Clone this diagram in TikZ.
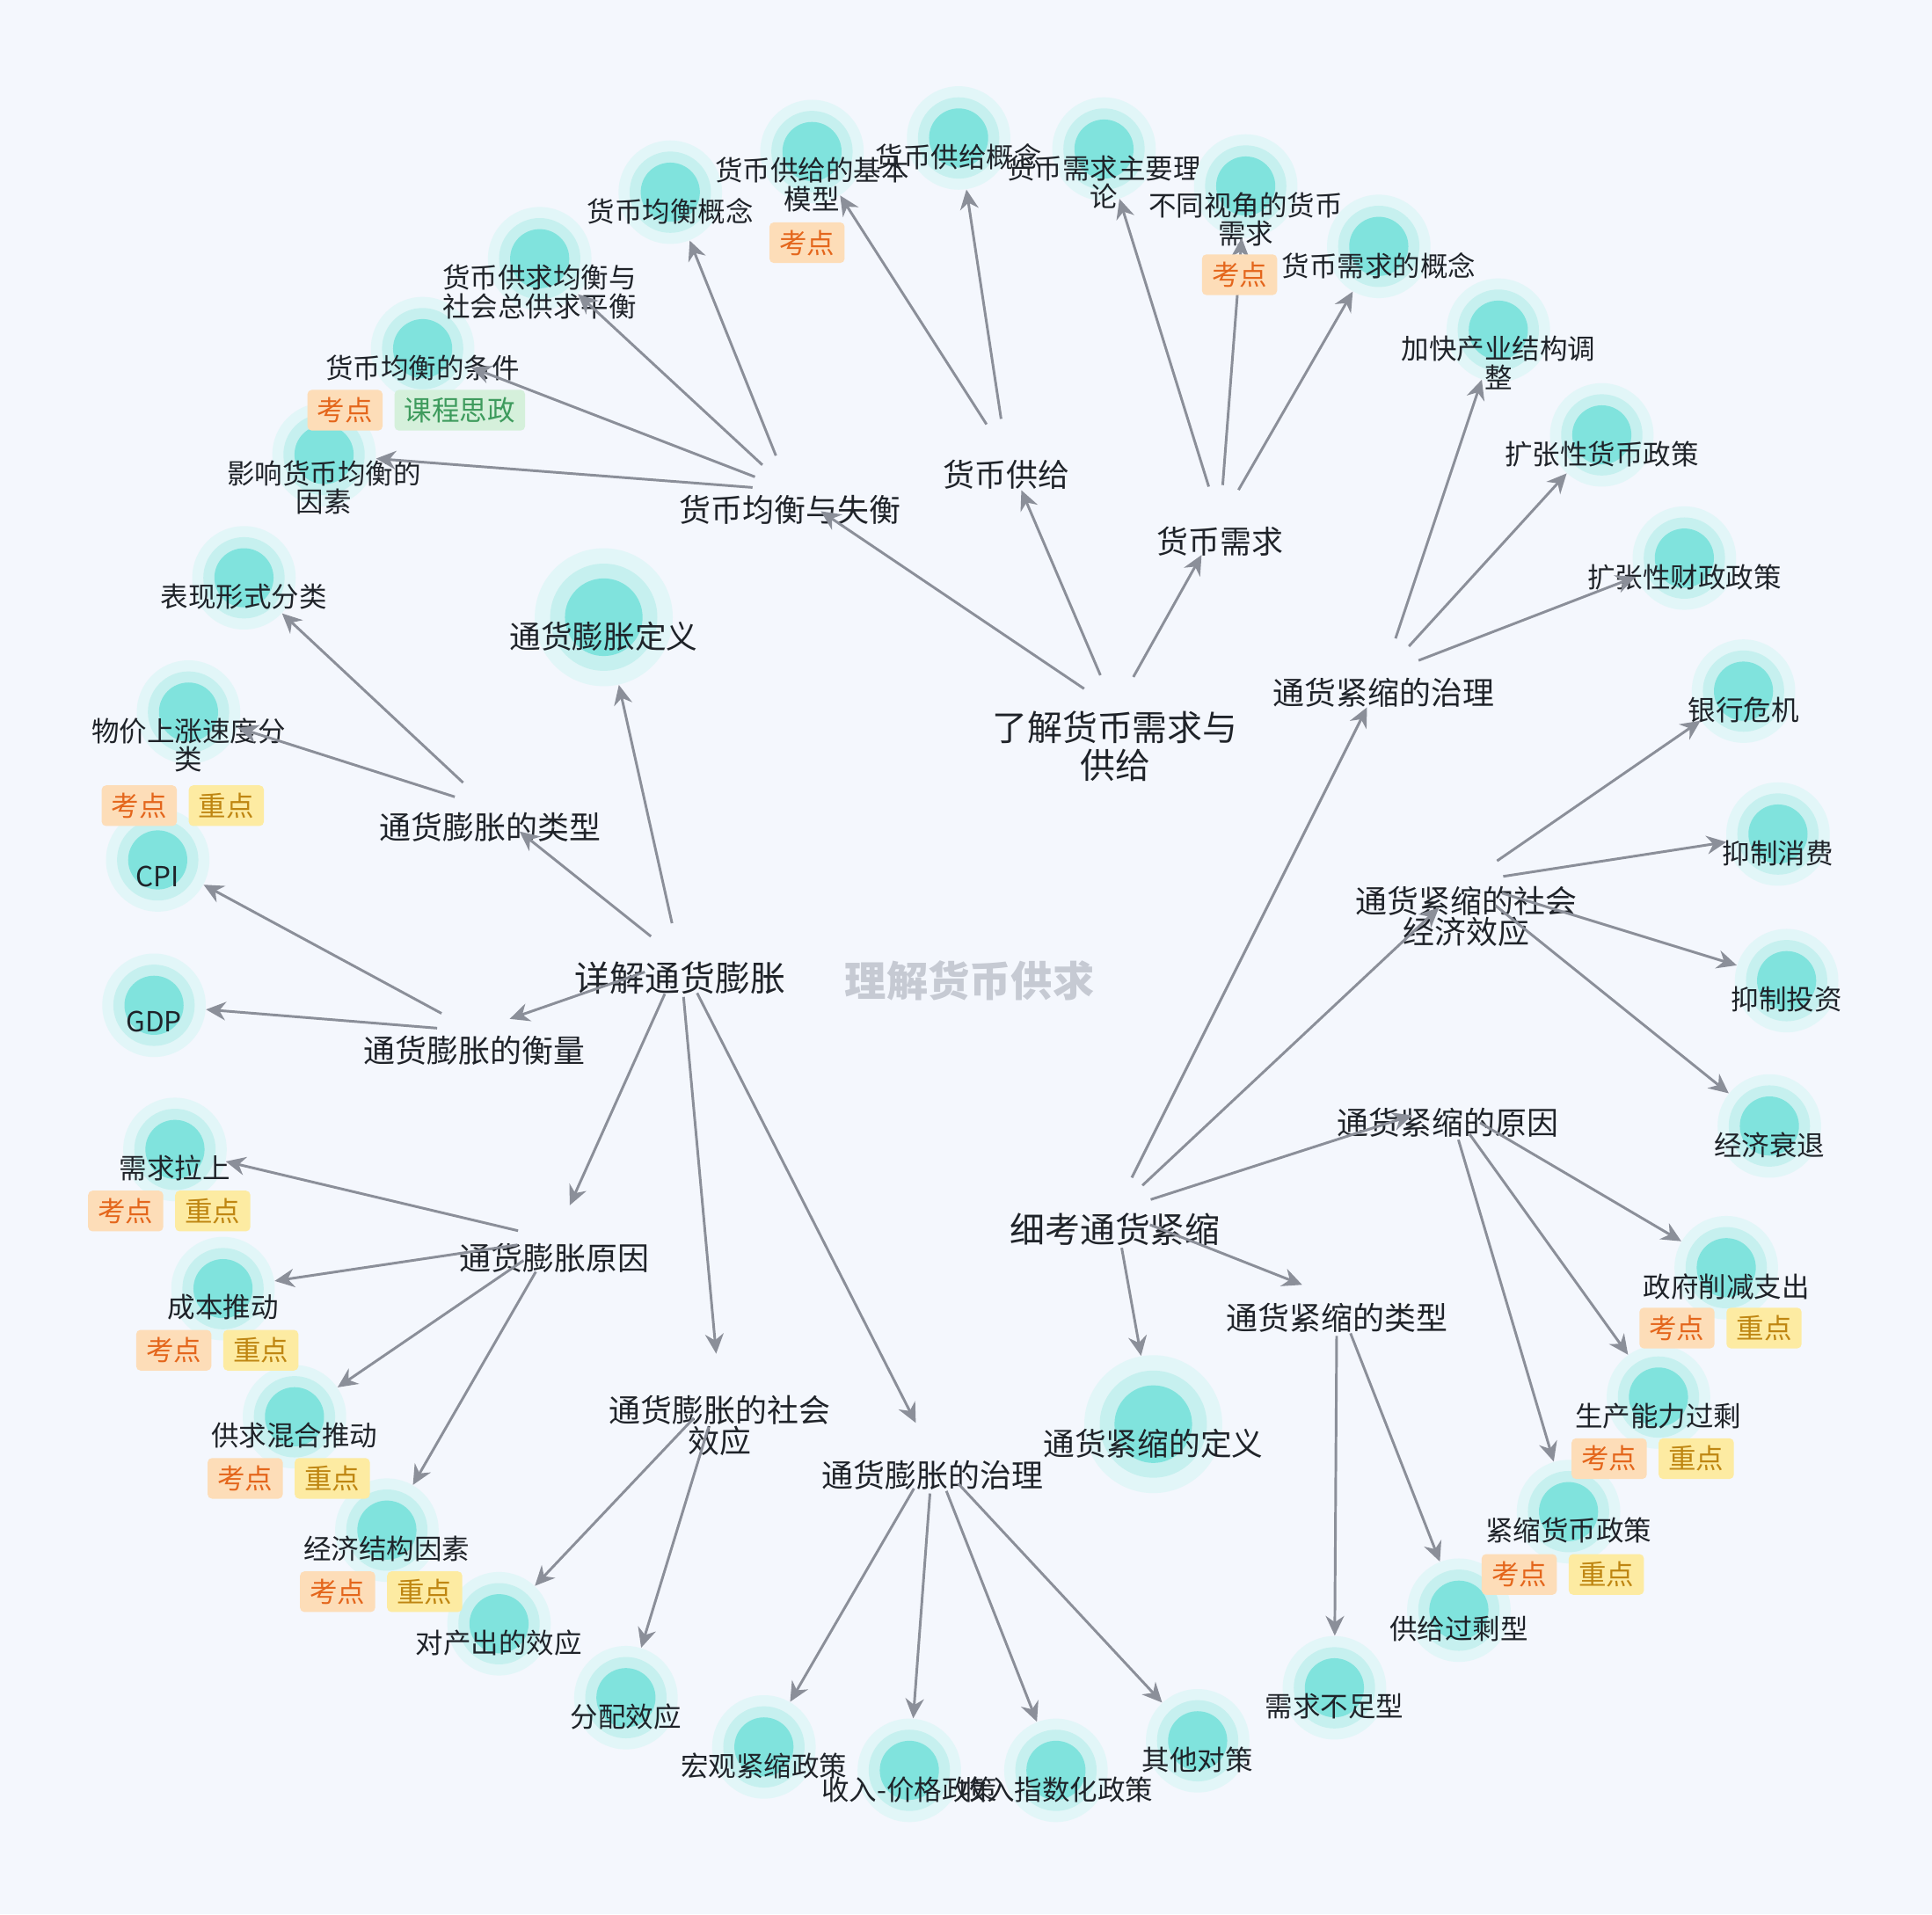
\documentclass[tikz,border=0pt]{standalone}
\usepackage{fontspec}
\setmainfont{Noto Sans CJK SC}
\usetikzlibrary{arrows.meta,positioning}
\definecolor{MmBg}{HTML}{F4F7FD}
\definecolor{MmCore}{HTML}{80E3DD}
\definecolor{MmRing}{HTML}{C6F0EF}
\definecolor{MmHalo}{HTML}{E2F6F8}
\definecolor{MmLine}{HTML}{8B8F99}
\definecolor{MmText}{HTML}{1F2329}
\definecolor{MmTitle}{HTML}{C6CAD3}
\definecolor{MmKaoFill}{HTML}{FDDDB8}
\definecolor{MmKaoText}{HTML}{E4661C}
\definecolor{MmZhongFill}{HTML}{FDEBA2}
\definecolor{MmZhongText}{HTML}{BF8612}
\definecolor{MmSiFill}{HTML}{D5F0DB}
\definecolor{MmSiText}{HTML}{3E9B5D}
\tikzset{
  mm/leaf/.style={
    circle,
    fill=MmHalo,
    minimum size=1.68cm,
    inner sep=0pt,
    path picture={
      \fill[MmRing] (path picture bounding box.center) circle (0.66cm);
      \fill[MmCore] (path picture bounding box.center) circle (0.48cm);
    }
  },
  mm/bigleaf/.style={
    circle,
    fill=MmHalo,
    minimum size=2.24cm,
    inner sep=0pt,
    path picture={
      \fill[MmRing] (path picture bounding box.center) circle (0.87cm);
      \fill[MmCore] (path picture bounding box.center) circle (0.63cm);
    }
  },
  mm/point/.style={circle, minimum size=1.2cm, inner sep=0pt},
  mm/leaftext/.style={
    yshift=0.755cm,
    align=center,
    inner sep=0pt,
    text=MmText,
    font=\fontsize{12.8}{13.1}\selectfont
  },
  mm/bigtext/.style={
    yshift=1.06cm,
    align=center,
    inner sep=0pt,
    text=MmText,
    font=\fontsize{14.5}{14.5}\selectfont
  },
  mm/subtext/.style={
    yshift=0.542cm,
    align=center,
    inner sep=0pt,
    text=MmText,
    font=\fontsize{14.6}{14.3}\selectfont
  },
  mm/hubtext/.style={
    yshift=0.586cm,
    align=center,
    inner sep=0pt,
    text=MmText,
    font=\fontsize{16.2}{17.5}\selectfont
  },
  mm/tag/.style={
    rounded corners=2pt,
    minimum height=0.66cm,
    inner xsep=0.16cm,
    inner ysep=0pt,
    font=\fontsize{12.8}{13}\selectfont
  },
  mm/kao/.style={mm/tag, fill=MmKaoFill, text=MmKaoText},
  mm/zhong/.style={mm/tag, fill=MmZhongFill, text=MmZhongText},
  mm/sizheng/.style={mm/tag, fill=MmSiFill, text=MmSiText},
  mm/arrow/.style={-{Stealth[length=0.32cm,width=0.3cm]}, line width=1.2pt, draw=MmLine},
  mm/title/.style={font=\fontsize{19.2}{20}\selectfont\bfseries, text=MmTitle}
}

\begin{document}
\begin{tikzpicture}[x=0.02cm,y=-0.02cm]
  \fill[MmBg] (0,0) rectangle (1568,1554);
  \useasboundingbox (0,0) rectangle (1568,1554);

  \node[mm/title] (title) at (787,796) {理解货币供求};

  % hubs and branch points
  \node[mm/point, label={[mm/hubtext]below:{了解货币需求与\\供给}}] (lhxq) at (905,576) {};
  \node[mm/point, label={[mm/hubtext]below:详解通货膨胀}] (xjtz) at (552,779) {};
  \node[mm/point, label={[mm/hubtext]below:细考通货紧缩}] (xktj) at (905,983) {};

  \node[mm/point, label={[mm/subtext]below:货币均衡与失衡}] (jhsh) at (641,398) {};
  \node[mm/point, label={[mm/subtext]below:货币供给}] (hbgj) at (817,370) {};
  \node[mm/point, label={[mm/subtext]below:货币需求}] (hbxq) at (990,424) {};
  \node[mm/point, label={[mm/subtext]below:通货膨胀的类型}] (tzlx) at (398,656) {};
  \node[mm/point, label={[mm/subtext]below:通货膨胀的衡量}] (tzhl) at (385,837) {};
  \node[mm/point, label={[mm/subtext]below:通货膨胀原因}] (tzyy) at (450,1006) {};
  \node[mm/point, label={[mm/subtext]below:{通货膨胀的社会\\效应}}] (tzxy) at (584,1129) {};
  \node[mm/point, label={[mm/subtext]below:通货膨胀的治理}] (tzzl) at (757,1182) {};
  \node[mm/point, label={[mm/subtext]below:通货紧缩的治理}] (jszl) at (1123,547) {};
  \node[mm/point, label={[mm/subtext]below:{通货紧缩的社会\\经济效应}}] (jsxy) at (1190,716) {};
  \node[mm/point, label={[mm/subtext]below:通货紧缩的原因}] (jsyy) at (1175,896) {};
  \node[mm/point, label={[mm/subtext]below:通货紧缩的类型}] (jslx) at (1085,1054) {};

  % leaves
  \node[mm/leaf, label={[mm/leaftext]below:{影响货币均衡的\\因素}}] (ygys) at (263,369) {};
  \node[mm/leaf, label={[mm/leaftext]below:货币均衡的条件}] (jhtj) at (343,283) {};
  \node[mm/leaf, label={[mm/leaftext]below:{货币供求均衡与\\社会总供求平衡}}] (gqjh) at (438,210) {};
  \node[mm/leaf, label={[mm/leaftext]below:货币均衡概念}] (jhgn) at (544,156) {};
  \node[mm/leaf, label={[mm/leaftext]below:{货币供给的基本\\模型}}] (gjmx) at (659,123) {};
  \node[mm/leaf, label={[mm/leaftext]below:货币供给概念}] (gjgn) at (778,112) {};
  \node[mm/leaf, label={[mm/leaftext]below:{货币需求主要理\\论}}] (xqll) at (896,121) {};
  \node[mm/leaf, label={[mm/leaftext]below:{不同视角的货币\\需求}}] (btsj) at (1011,151) {};
  \node[mm/leaf, label={[mm/leaftext]below:货币需求的概念}] (xqgn) at (1119,200) {};
  \node[mm/leaf, label={[mm/leaftext]below:{加快产业结构调\\整}}] (cyjg) at (1216,268) {};
  \node[mm/leaf, label={[mm/leaftext]below:扩张性货币政策}] (kzhb) at (1300,353) {};
  \node[mm/leaf, label={[mm/leaftext]below:扩张性财政政策}] (kzcz) at (1367,453) {};
  \node[mm/leaf, label={[mm/leaftext]below:银行危机}] (yhwj) at (1415,561) {};
  \node[mm/leaf, label={[mm/leaftext]below:抑制消费}] (yzxf) at (1443,677) {};
  \node[mm/leaf, label={[mm/leaftext]below:抑制投资}] (yztz) at (1450,796) {};
  \node[mm/leaf, label={[mm/leaftext]below:经济衰退}] (jjst) at (1436,914) {};
  \node[mm/leaf, label={[mm/leaftext]below:政府削减支出}] (zfxj) at (1401,1029) {};
  \node[mm/leaf, label={[mm/leaftext]below:生产能力过剩}] (scgs) at (1346,1134) {};
  \node[mm/leaf, label={[mm/leaftext]below:紧缩货币政策}] (jshb) at (1273,1227) {};
  \node[mm/leaf, label={[mm/leaftext]below:供给过剩型}] (gjgs) at (1184,1307) {};
  \node[mm/leaf, label={[mm/leaftext]below:需求不足型}] (xqbz) at (1083,1370) {};
  \node[mm/leaf, label={[mm/leaftext]below:其他对策}] (qtdc) at (972,1413) {};
  \node[mm/leaf, label={[mm/leaftext]below:收入指数化政策}] (zshc) at (857,1437) {};
  \node[mm/leaf, label={[mm/leaftext]below:收入-价格政策}] (srjg) at (738,1437) {};
  \node[mm/leaf, label={[mm/leaftext]below:宏观紧缩政策}] (hgjs) at (620,1418) {};
  \node[mm/leaf, label={[mm/leaftext]below:分配效应}] (fpxy) at (508,1378) {};
  \node[mm/leaf, label={[mm/leaftext]below:对产出的效应}] (ccxy) at (405,1318) {};
  \node[mm/leaf, label={[mm/leaftext]below:经济结构因素}] (jjjg) at (314,1242) {};
  \node[mm/leaf, label={[mm/leaftext]below:供求混合推动}] (hhtd) at (239,1150) {};
  \node[mm/leaf, label={[mm/leaftext]below:成本推动}] (cbtd) at (181,1046) {};
  \node[mm/leaf, label={[mm/leaftext]below:需求拉上}] (xqls) at (142,933) {};
  \node[mm/leaf, label={[mm/leaftext]below:GDP}] (gdp) at (125,816) {};
  \node[mm/leaf, label={[mm/leaftext]below:CPI}] (cpi) at (128,698) {};
  \node[mm/leaf, label={[mm/leaftext]below:{物价上涨速度分\\类}}] (wjsd) at (153,578) {};
  \node[mm/leaf, label={[mm/leaftext]below:表现形式分类}] (bxxs) at (198,469) {};
  \node[mm/bigleaf, label={[mm/bigtext]below:通货膨胀定义}] (tzdy) at (490,501) {};
  \node[mm/bigleaf, label={[mm/bigtext]below:通货紧缩的定义}] (jsdy) at (936,1156) {};

  % links
  \draw[mm/arrow] (lhxq) -- (jhsh);
  \draw[mm/arrow] (lhxq) -- (hbgj);
  \draw[mm/arrow] (lhxq) -- (hbxq);
  \draw[mm/arrow] (jhsh) -- (ygys);
  \draw[mm/arrow] (jhsh) -- (jhtj);
  \draw[mm/arrow] (jhsh) -- (gqjh);
  \draw[mm/arrow] (jhsh) -- (jhgn);
  \draw[mm/arrow] (hbgj) -- (gjmx);
  \draw[mm/arrow] (hbgj) -- (gjgn);
  \draw[mm/arrow] (hbxq) -- (xqll);
  \draw[mm/arrow] (hbxq) -- (btsj);
  \draw[mm/arrow] (hbxq) -- (xqgn);

  \draw[mm/arrow] (xjtz) -- (tzdy);
  \draw[mm/arrow] (xjtz) -- (tzlx);
  \draw[mm/arrow] (xjtz) -- (tzhl);
  \draw[mm/arrow] (xjtz) -- (tzyy);
  \draw[mm/arrow] (xjtz) -- (tzxy);
  \draw[mm/arrow] (xjtz) -- (tzzl);
  \draw[mm/arrow] (tzlx) -- (bxxs);
  \draw[mm/arrow] (tzlx) -- (wjsd);
  \draw[mm/arrow] (tzhl) -- (cpi);
  \draw[mm/arrow] (tzhl) -- (gdp);
  \draw[mm/arrow] (tzyy) -- (xqls);
  \draw[mm/arrow] (tzyy) -- (cbtd);
  \draw[mm/arrow] (tzyy) -- (hhtd);
  \draw[mm/arrow] (tzyy) -- (jjjg);
  \draw[mm/arrow] (tzxy) -- (ccxy);
  \draw[mm/arrow] (tzxy) -- (fpxy);
  \draw[mm/arrow] (tzzl) -- (hgjs);
  \draw[mm/arrow] (tzzl) -- (srjg);
  \draw[mm/arrow] (tzzl) -- (zshc);
  \draw[mm/arrow] (tzzl) -- (qtdc);

  \draw[mm/arrow] (xktj) -- (jszl);
  \draw[mm/arrow] (xktj) -- (jsxy);
  \draw[mm/arrow] (xktj) -- (jsyy);
  \draw[mm/arrow] (xktj) -- (jslx);
  \draw[mm/arrow] (xktj) -- (jsdy);
  \draw[mm/arrow] (jszl) -- (cyjg);
  \draw[mm/arrow] (jszl) -- (kzhb);
  \draw[mm/arrow] (jszl) -- (kzcz);
  \draw[mm/arrow] (jsxy) -- (yhwj);
  \draw[mm/arrow] (jsxy) -- (yzxf);
  \draw[mm/arrow] (jsxy) -- (yztz);
  \draw[mm/arrow] (jsxy) -- (jjst);
  \draw[mm/arrow] (jsyy) -- (zfxj);
  \draw[mm/arrow] (jsyy) -- (scgs);
  \draw[mm/arrow] (jsyy) -- (jshb);
  \draw[mm/arrow] (jslx) -- (gjgs);
  \draw[mm/arrow] (jslx) -- (xqbz);

  % tags
  \node[mm/kao] (jhtjk) at (280,333) {考点};
  \node[mm/sizheng, right=0.18cm of jhtjk] (jhtjs) {课程思政};
  \node[mm/kao] (gjmxk) at (655,197) {考点};
  \node[mm/kao] (btsjk) at (1006,223) {考点};
  \node[mm/kao] (wjsdk) at (113,654) {考点};
  \node[mm/zhong, right=0.18cm of wjsdk] (wjsdz) {重点};
  \node[mm/kao] (xqlsk) at (102,983) {考点};
  \node[mm/zhong, right=0.18cm of xqlsk] (xqlsz) {重点};
  \node[mm/kao] (cbtdk) at (141,1096) {考点};
  \node[mm/zhong, right=0.18cm of cbtdk] (cbtdz) {重点};
  \node[mm/kao] (hhtdk) at (199,1200) {考点};
  \node[mm/zhong, right=0.18cm of hhtdk] (hhtdz) {重点};
  \node[mm/kao] (jjjgk) at (274,1292) {考点};
  \node[mm/zhong, right=0.18cm of jjjgk] (jjjgz) {重点};
  \node[mm/kao] (zfxjk) at (1361,1078) {考点};
  \node[mm/zhong, right=0.18cm of zfxjk] (zfxjz) {重点};
  \node[mm/kao] (scgsk) at (1306,1184) {考点};
  \node[mm/zhong, right=0.18cm of scgsk] (scgsz) {重点};
  \node[mm/kao] (jshbk) at (1233,1278) {考点};
  \node[mm/zhong, right=0.18cm of jshbk] (jshbz) {重点};
\end{tikzpicture}
\end{document}
